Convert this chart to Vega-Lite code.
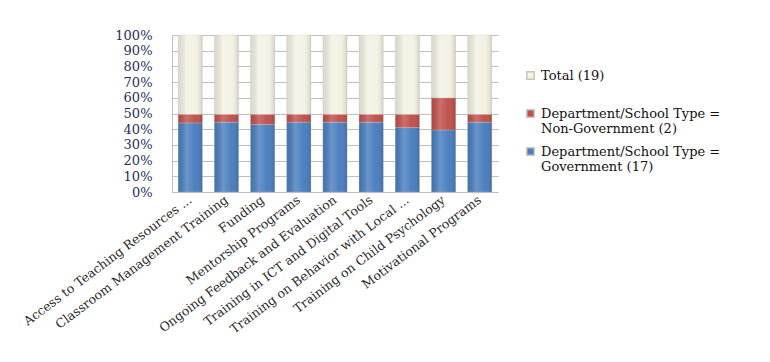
{
  "$schema": "https://vega.github.io/schema/vega-lite/v6.json",
  "autosize": "none",
  "width": 326,
  "height": 157,
  "padding": {"left": 172, "top": 35, "right": 272, "bottom": 170},
  "background": "white",
  "config": {
    "font": "DejaVu Serif",
    "view": {"stroke": null}
  },
  "data": {
    "values": [
      {"category": "Access to Teaching Resources ...", "series": "Department/School Type = Government (17)", "ord": 1, "value": 44},
      {"category": "Access to Teaching Resources ...", "series": "Department/School Type = Non-Government (2)", "ord": 2, "value": 5.5},
      {"category": "Access to Teaching Resources ...", "series": "Total (19)", "ord": 3, "value": 50.5},
      {"category": "Classroom Management Training", "series": "Department/School Type = Government (17)", "ord": 1, "value": 44.5},
      {"category": "Classroom Management Training", "series": "Department/School Type = Non-Government (2)", "ord": 2, "value": 5},
      {"category": "Classroom Management Training", "series": "Total (19)", "ord": 3, "value": 50.5},
      {"category": "Funding", "series": "Department/School Type = Government (17)", "ord": 1, "value": 43},
      {"category": "Funding", "series": "Department/School Type = Non-Government (2)", "ord": 2, "value": 6.5},
      {"category": "Funding", "series": "Total (19)", "ord": 3, "value": 50.5},
      {"category": "Mentorship Programs", "series": "Department/School Type = Government (17)", "ord": 1, "value": 44.5},
      {"category": "Mentorship Programs", "series": "Department/School Type = Non-Government (2)", "ord": 2, "value": 5},
      {"category": "Mentorship Programs", "series": "Total (19)", "ord": 3, "value": 50.5},
      {"category": "Ongoing Feedback and Evaluation", "series": "Department/School Type = Government (17)", "ord": 1, "value": 44.5},
      {"category": "Ongoing Feedback and Evaluation", "series": "Department/School Type = Non-Government (2)", "ord": 2, "value": 5},
      {"category": "Ongoing Feedback and Evaluation", "series": "Total (19)", "ord": 3, "value": 50.5},
      {"category": "Training in ICT and Digital Tools", "series": "Department/School Type = Government (17)", "ord": 1, "value": 44.5},
      {"category": "Training in ICT and Digital Tools", "series": "Department/School Type = Non-Government (2)", "ord": 2, "value": 5},
      {"category": "Training in ICT and Digital Tools", "series": "Total (19)", "ord": 3, "value": 50.5},
      {"category": "Training on Behavior with Local ...", "series": "Department/School Type = Government (17)", "ord": 1, "value": 41},
      {"category": "Training on Behavior with Local ...", "series": "Department/School Type = Non-Government (2)", "ord": 2, "value": 8.5},
      {"category": "Training on Behavior with Local ...", "series": "Total (19)", "ord": 3, "value": 50.5},
      {"category": "Training on Child Psychology", "series": "Department/School Type = Government (17)", "ord": 1, "value": 39.5},
      {"category": "Training on Child Psychology", "series": "Department/School Type = Non-Government (2)", "ord": 2, "value": 20.5},
      {"category": "Training on Child Psychology", "series": "Total (19)", "ord": 3, "value": 40},
      {"category": "Motivational Programs", "series": "Department/School Type = Government (17)", "ord": 1, "value": 44.5},
      {"category": "Motivational Programs", "series": "Department/School Type = Non-Government (2)", "ord": 2, "value": 5},
      {"category": "Motivational Programs", "series": "Total (19)", "ord": 3, "value": 50.5}
    ]
  },
  "encoding": {
    "x": {
      "field": "category",
      "type": "nominal",
      "sort": null,
      "scale": {"paddingInner": 0.33, "paddingOuter": 0.17},
      "axis": {
        "title": null,
        "labelAngle": -37,
        "labelAlign": "right",
        "labelBaseline": "middle",
        "labelFontSize": 12.5,
        "labelColor": "#2a2a2a",
        "labelPadding": 6,
        "ticks": false,
        "domainColor": "#bfbfbf",
        "labelLimit": 300
      }
    },
    "y": {
      "field": "value",
      "type": "quantitative",
      "stack": "normalize",
      "scale": {"domain": [0, 1]},
      "axis": {
        "title": null,
        "format": ".0%",
        "values": [0, 0.1, 0.2, 0.3, 0.4, 0.5, 0.6, 0.7, 0.8, 0.9, 1],
        "labelFontSize": 13,
        "labelColor": "#1f2f5c",
        "labelPadding": 20,
        "ticks": false,
        "domainColor": "#bfbfbf",
        "gridColor": "#bfbfbf"
      }
    },
    "order": {"field": "ord", "type": "quantitative"}
  },
  "layer": [
    {
      "mark": {"type": "bar", "strokeWidth": 0.6, "stroke": "#c8c6b8", "strokeOpacity": 0.5},
      "encoding": {
        "color": {
          "field": "series",
          "type": "nominal",
          "scale": {
            "domain": ["Total (19)", "Department/School Type = Non-Government (2)", "Department/School Type = Government (17)"],
            "range": ["#f4f2e4", "#c0504d", "#4a7ebf"]
          },
          "legend": {
            "title": null,
            "orient": "none",
            "legendX": 352,
            "legendY": 34,
            "symbolType": "square",
            "symbolSize": 55,
            "labelFontSize": 13,
            "labelColor": "#111111",
            "rowPadding": 8,
            "labelLimit": 300,
            "labelExpr": "datum.label == 'Total (19)' ? ['Total (19)', ' '] : (indexof(datum.label, 'Non') >= 0 ? ['Department/School Type =', 'Non-Government (2)'] : ['Department/School Type =', 'Government (17)'])"
          }
        }
      }
    },
    {
      "mark": {
        "type": "bar",
        "fill": {
          "gradient": "linear",
          "x1": 0, "x2": 1, "y1": 0, "y2": 0,
          "stops": [
            {"offset": 0, "color": "rgba(0,0,0,0.10)"},
            {"offset": 0.35, "color": "rgba(255,255,255,0.18)"},
            {"offset": 0.7, "color": "rgba(255,255,255,0.02)"},
            {"offset": 1, "color": "rgba(0,0,0,0.14)"}
          ]
        }
      }
    }
  ]
}
